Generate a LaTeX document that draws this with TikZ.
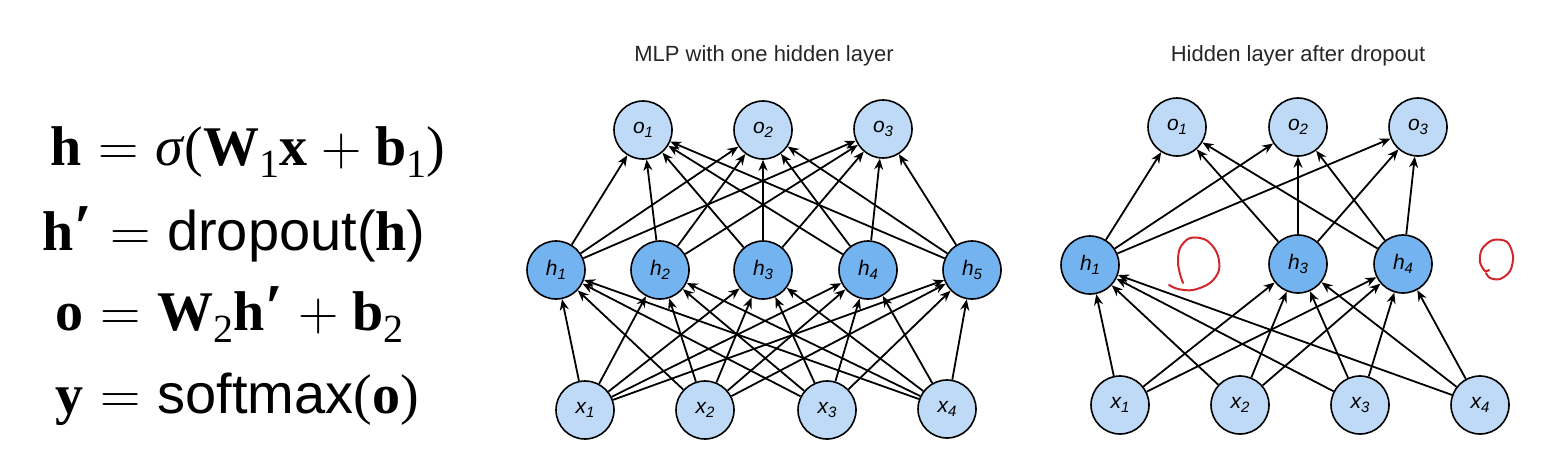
\documentclass[tikz,border=0pt]{standalone}
\usepackage{fontspec}
\setmainfont{Liberation Serif}
\newfontfamily\arialf{Liberation Sans}
\newfontfamily\lmr{Latin Modern Roman}
\usetikzlibrary{arrows.meta}
\definecolor{lightnode}{HTML}{BFDAF7}
\definecolor{darknode}{HTML}{73B3F0}
\definecolor{scribble}{HTML}{D0282A}
\newcommand{\lsub}[1]{\raisebox{-0.22em}{\fontsize{20}{20}\selectfont #1}}
\newcommand{\eqs}{{\hspace{0.3em}\lmr=\hspace{0.3em}}}
\newcommand{\pls}{{\hspace{0.25em}\lmr+\hspace{0.25em}}}
\newcommand{\prm}{{\kern0.01em\raisebox{0.02em}{\fontsize{32}{32}\selectfont\bfseries ′}\kern0.02em}}
\newcommand{\nlab}[2]{{\arialf\itshape #1\raisebox{-0.35ex}{\fontsize{7.5}{7.5}\selectfont #2}}}
\tikzset{
  neuron/.style={circle, draw=black, line width=0.8pt, minimum size=29pt, inner sep=0pt,
    font=\fontsize{10.5}{11}\selectfont},
  lightn/.style={neuron, fill=lightnode},
  darkn/.style={neuron, fill=darknode},
  conn/.style={draw=black, line width=0.9pt, -{Stealth[length=5.5pt,width=4.5pt]}},
  eqline/.style={anchor=base west, inner sep=0pt, font=\fontsize{28}{30}\selectfont},
  ttl/.style={font=\arialf\fontsize{11}{12}\selectfont, text=black!85, anchor=base},
  redmark/.style={draw=scribble, line width=1pt, line cap=round, line join=round}
}
\begin{document}
\begin{tikzpicture}[x=0.5pt, y=-0.5pt]
\useasboundingbox (0,0) rectangle (1550,467);
\fill[white] (0,0) rectangle (1550,467);

% equations
\node[eqline] (eq1) at (50,165) {\textbf{h}\eqs\textit{σ}(\textbf{W}\lsub{1}\textbf{x}\pls\textbf{b}\lsub{1})};
\node[eqline] (eq2) at (42,250) {\textbf{h}\prm\eqs{\arialf dropout(}\textbf{h}{\arialf )}};
\node[eqline] (eq3) at (55,330) {\textbf{o}\eqs\textbf{W}\lsub{2}\textbf{h}\prm\pls\textbf{b}\lsub{2}};
\node[eqline] (eq4) at (55,413) {\textbf{y}\eqs{\arialf softmax}(\textbf{o})};

% titles
\node[ttl] (t1) at (764,61) {MLP with one hidden layer};
\node[ttl] (t2) at (1298,61) {Hidden layer after dropout};

% left network
\node[lightn] (Lo1) at (643,130) {\nlab{o}{1}};
\node[lightn] (Lo2) at (763,130) {\nlab{o}{2}};
\node[lightn] (Lo3) at (883,129) {\nlab{o}{3}};
\node[darkn] (Lh1) at (556,270) {\nlab{h}{1}};
\node[darkn] (Lh2) at (660,270) {\nlab{h}{2}};
\node[darkn] (Lh3) at (763,270) {\nlab{h}{3}};
\node[darkn] (Lh4) at (868,270) {\nlab{h}{4}};
\node[darkn] (Lh5) at (972,270) {\nlab{h}{5}};
\node[lightn] (Lx1) at (585,410) {\nlab{x}{1}};
\node[lightn] (Lx2) at (705,410) {\nlab{x}{2}};
\node[lightn] (Lx3) at (827,410) {\nlab{x}{3}};
\node[lightn] (Lx4) at (947,409) {\nlab{x}{4}};
\foreach \h in {1,...,5}{
  \foreach \o in {1,2,3}{ \draw[conn] (Lh\h) -- (Lo\o); }
  \foreach \x in {1,...,4}{ \draw[conn] (Lx\x) -- (Lh\h); }
}

% right network
\node[lightn] (Ro1) at (1177,127) {\nlab{o}{1}};
\node[lightn] (Ro2) at (1298,127) {\nlab{o}{2}};
\node[lightn] (Ro3) at (1418,127) {\nlab{o}{3}};
\node[darkn] (Rh1) at (1090,265) {\nlab{h}{1}};
\node[darkn] (Rh3) at (1298,264) {\nlab{h}{3}};
\node[darkn] (Rh4) at (1403,264) {\nlab{h}{4}};
\node[lightn] (Rx1) at (1120,405) {\nlab{x}{1}};
\node[lightn] (Rx2) at (1240,405) {\nlab{x}{2}};
\node[lightn] (Rx3) at (1360,405) {\nlab{x}{3}};
\node[lightn] (Rx4) at (1480,405) {\nlab{x}{4}};
\foreach \h in {1,3,4}{
  \foreach \o in {1,2,3}{ \draw[conn] (Rh\h) -- (Ro\o); }
  \foreach \x in {1,...,4}{ \draw[conn] (Rx\x) -- (Rh\h); }
}

% red hand-drawn marks
\draw[redmark] plot[smooth, tension=0.55] coordinates {(1183,283) (1180,274) (1178,262) (1180,248) (1190,238) (1206,240) (1217,253) (1219,270) (1210,283) (1193,290) (1178,289) (1169,285)};
\draw[redmark] plot[smooth, tension=0.55] coordinates {(1489,270) (1485,271) (1480,262) (1482,249) (1493,240) (1507,242) (1513,256) (1510,271) (1500,279) (1490,278) (1486,273)};
\end{tikzpicture}
\end{document}
